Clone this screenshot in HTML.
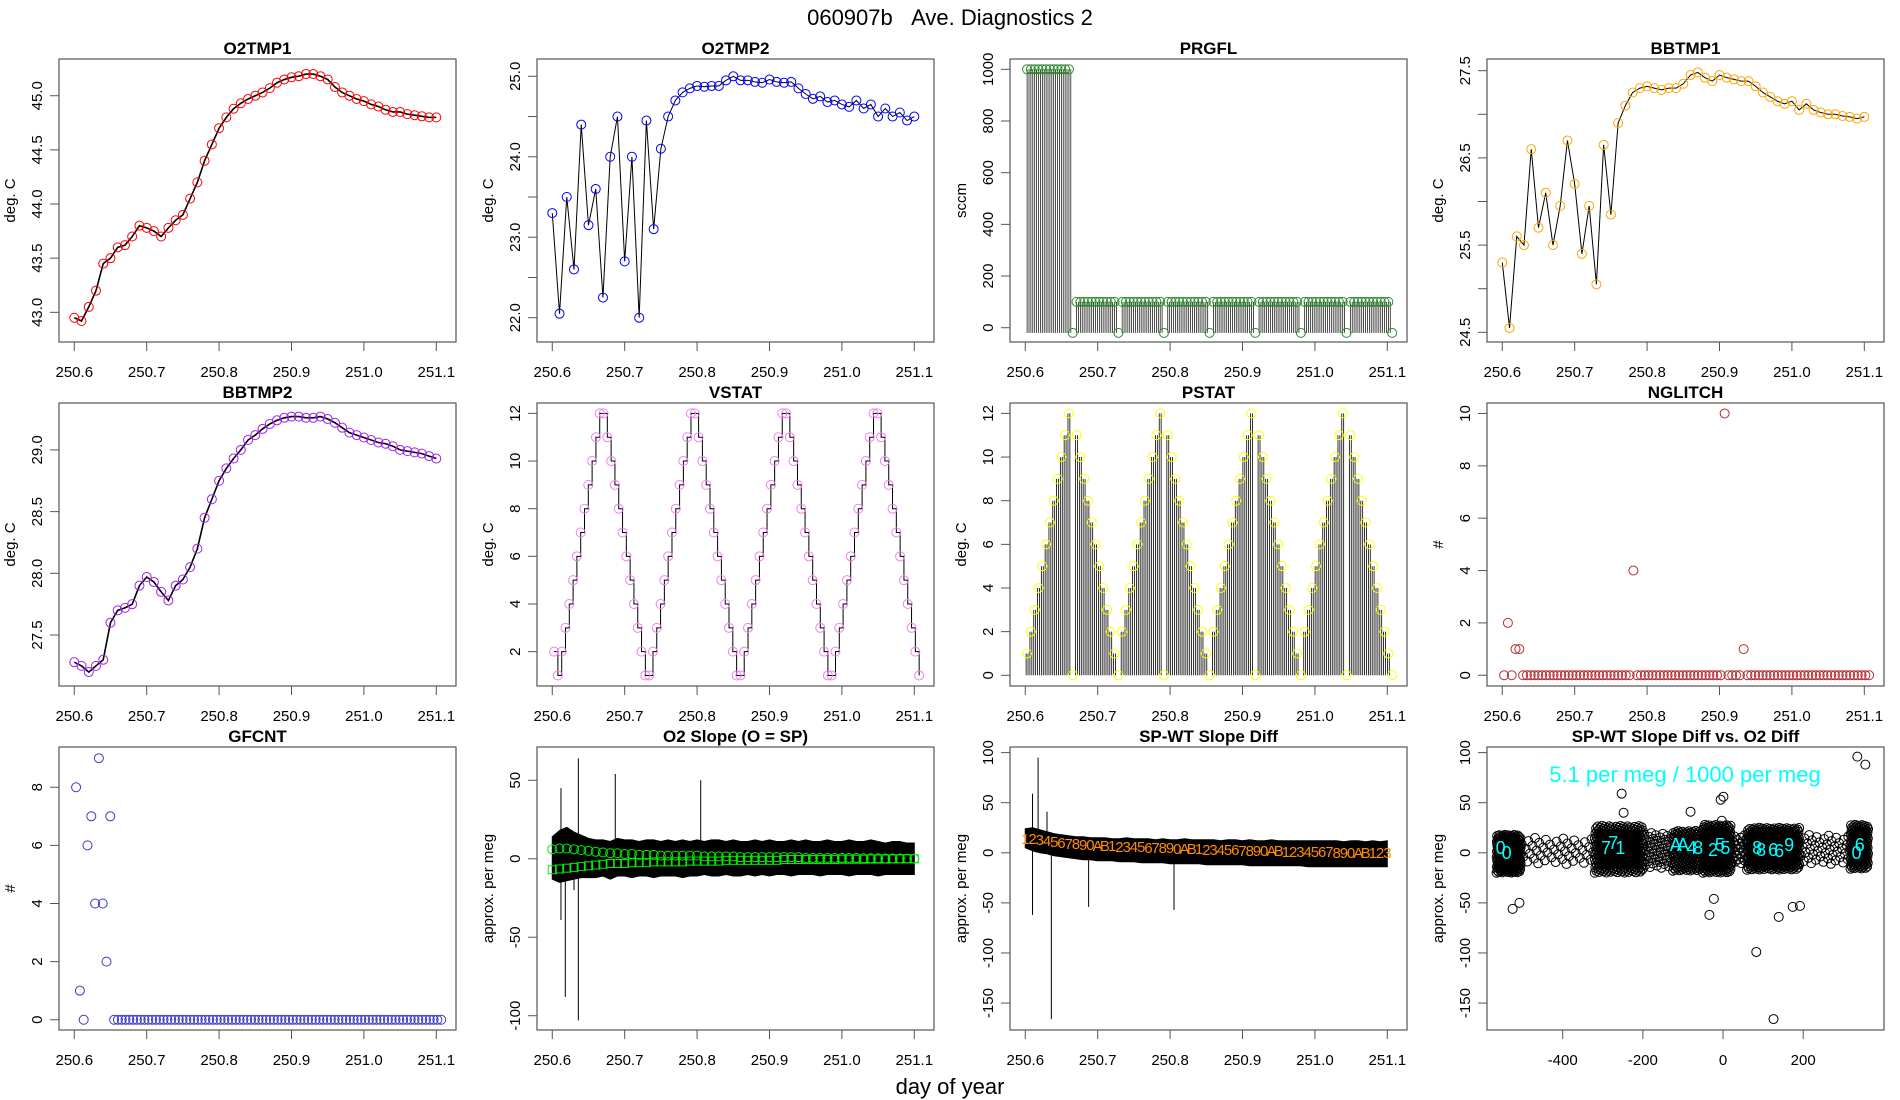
<!DOCTYPE html>
<html><head><meta charset="utf-8"><style>
html,body{margin:0;padding:0;background:#fff;}
svg{display:block;font-family:"Liberation Sans",sans-serif;}
</style></head><body>
<svg id="chart" width="1900" height="1100" viewBox="0 0 1900 1100">
<rect x="0" y="0" width="1900" height="1100" fill="#fff"/>
<text x="950" y="25" font-size="22" text-anchor="middle">060907b&#160;&#160;&#160;Ave. Diagnostics 2</text>
<text x="950" y="1094" font-size="22" text-anchor="middle">day of year</text>
</svg>
<script>
// ---- shared data ----
const T51=[250.60,250.61,250.62,250.63,250.64,250.65,250.66,250.67,250.68,250.69,250.70,250.71,250.72,250.73,250.74,250.75,250.76,250.77,250.78,250.79,250.80,250.81,250.82,250.83,250.84,250.85,250.86,250.87,250.88,250.89,250.90,250.91,250.92,250.93,250.94,250.95,250.96,250.97,250.98,250.99,251.00,251.01,251.02,251.03,251.04,251.05,251.06,251.07,251.08,251.09,251.10];
const stepStart=250.6025;
const stepDays=0.005252;
const timeTicks=[250.6,250.7,250.8,250.9,251.0,251.1];
const timeTickLabels=["250.6","250.7","250.8","250.9","251.0","251.1"];
const o2tmp1=[42.95,42.92,43.05,43.2,43.45,43.5,43.6,43.62,43.7,43.8,43.78,43.75,43.7,43.78,43.85,43.9,44.05,44.2,44.4,44.55,44.7,44.8,44.88,44.93,44.97,45.0,45.03,45.07,45.12,45.15,45.17,45.18,45.2,45.2,45.18,45.15,45.08,45.03,45.0,44.97,44.95,44.92,44.9,44.87,44.85,44.85,44.83,44.82,44.81,44.8,44.8];
const o2tmp2=[23.3,22.05,23.5,22.6,24.4,23.15,23.6,22.25,24.0,24.5,22.7,24.0,22.0,24.45,23.1,24.1,24.5,24.7,24.8,24.85,24.88,24.87,24.88,24.88,24.95,25.0,24.95,24.95,24.93,24.92,24.96,24.93,24.92,24.93,24.85,24.78,24.72,24.75,24.68,24.7,24.65,24.62,24.7,24.6,24.65,24.5,24.6,24.5,24.55,24.45,24.5];
const bbtmp1=[25.3,24.55,25.6,25.5,26.6,25.7,26.1,25.5,25.95,26.7,26.2,25.4,25.95,25.05,26.65,25.85,26.9,27.1,27.25,27.3,27.32,27.3,27.28,27.3,27.3,27.35,27.45,27.48,27.42,27.38,27.45,27.42,27.4,27.38,27.38,27.32,27.25,27.2,27.15,27.12,27.15,27.05,27.12,27.05,27.02,27.0,27.0,26.98,26.97,26.95,26.97];
const bbtmp2=[27.28,27.25,27.2,27.25,27.3,27.6,27.7,27.72,27.75,27.9,27.97,27.93,27.85,27.78,27.9,27.95,28.05,28.2,28.45,28.6,28.75,28.85,28.93,29.0,29.08,29.12,29.17,29.21,29.24,29.26,29.27,29.27,29.26,29.26,29.27,29.25,29.22,29.18,29.14,29.12,29.1,29.08,29.06,29.05,29.03,29.0,28.99,28.98,28.97,28.95,28.93];
const prgfl=[1000,1000,1000,1000,1000,1000,1000,1000,1000,1000,1000,1000,-20,100,100,100,100,100,100,100,100,100,100,100,-20,100,100,100,100,100,100,100,100,100,100,100,-20,100,100,100,100,100,100,100,100,100,100,100,-20,100,100,100,100,100,100,100,100,100,100,100,-20,100,100,100,100,100,100,100,100,100,100,100,-20,100,100,100,100,100,100,100,100,100,100,100,-20,100,100,100,100,100,100,100,100,100,100,100,-20];
const vstat=[2,1,2,3,4,5,6,7,8,9,10,11,12,12,11,10,9,8,7,6,5,4,3,2,1,1,2,3,4,5,6,7,8,9,10,11,12,12,11,10,9,8,7,6,5,4,3,2,1,1,2,3,4,5,6,7,8,9,10,11,12,12,11,10,9,8,7,6,5,4,3,2,1,1,2,3,4,5,6,7,8,9,10,11,12,12,11,10,9,8,7,6,5,4,3,2,1];
const pstat=[1,2,3,4,5,6,7,8,9,10,11,12,0,11,10,9,8,7,6,5,4,3,2,1,0,2,3,4,5,6,7,8,9,10,11,12,0,11,10,9,8,7,6,5,4,3,2,1,0,2,3,4,5,6,7,8,9,10,11,12,0,11,10,9,8,7,6,5,4,3,2,1,0,2,3,4,5,6,7,8,9,10,11,12,0,11,10,9,8,7,6,5,4,3,2,1,0];
const nglitch=[0,2,0,1,1,0,0,0,0,0,0,0,0,0,0,0,0,0,0,0,0,0,0,0,0,0,0,0,0,0,0,0,0,0,4,0,0,0,0,0,0,0,0,0,0,0,0,0,0,0,0,0,0,0,0,0,0,0,10,0,0,0,0,1,0,0,0,0,0,0,0,0,0,0,0,0,0,0,0,0,0,0,0,0,0,0,0,0,0,0,0,0,0,0,0,0,0];
const gfcnt=[8,1,0,6,7,4,9,4,2,7,0,0,0,0,0,0,0,0,0,0,0,0,0,0,0,0,0,0,0,0,0,0,0,0,0,0,0,0,0,0,0,0,0,0,0,0,0,0,0,0,0,0,0,0,0,0,0,0,0,0,0,0,0,0,0,0,0,0,0,0,0,0,0,0,0,0,0,0,0,0,0,0,0,0,0,0,0,0,0,0,0,0,0,0,0,0,0];
const o2Upper=[14,18,20,17,15,13,12,12,11,13,12,12,11,12,12,11,12,11,12,11,12,11,12,12,11,12,11,11,12,11,12,11,11,12,11,12,11,11,12,11,11,12,11,11,12,11,10,11,11,10,10];
const o2Lower=[-13,-15,-14,-13,-12,-12,-12,-11,-13,-11,-11,-12,-11,-11,-12,-11,-11,-11,-12,-11,-11,-10,-11,-11,-10,-11,-11,-10,-11,-10,-11,-10,-10,-11,-10,-10,-10,-11,-10,-10,-10,-11,-10,-10,-10,-11,-10,-10,-10,-10,-10];
const o2Circles=[6,6.5,6.5,6,5.5,5,4.5,4,3.5,3.5,3,3,2.5,2.5,2.5,2,2,2,2,2,2,1.5,1.5,1.5,1.5,1.5,1,1,1,1,1,1,1,1,1,0.5,0.5,0.5,0.5,0.5,0.5,0.5,0.5,0.3,0.3,0.3,0.2,0.2,0.2,0.1,0];
const o2Squares=[-7,-6.5,-6,-5.5,-5,-4.5,-4,-3.5,-3,-3,-3,-2.5,-2.5,-2.5,-2,-2,-2,-2,-2,-1.5,-1.5,-1.5,-1.5,-1.5,-1,-1,-1,-1,-1,-1,-1,-1,-0.5,-0.5,-0.5,-0.5,-0.5,-0.5,-0.5,-0.5,-0.3,-0.3,-0.3,-0.3,-0.2,-0.2,-0.2,-0.1,-0.1,0,0];
const o2SpikeT=[250.612,250.612,250.618,250.63,250.636,250.636,250.687,250.805];
const o2SpikeV=[45,-39,-88,-20,64,-103,54,50];
const spUpper=[24,25,23,21,19,18,17,16,16,15,15,15,14,14,15,14,14,14,13,14,13,13,14,13,13,13,13,12,13,13,12,13,12,12,13,12,12,12,12,12,12,12,12,12,11,12,12,11,12,11,12];
const spLower=[5,2,0,-1,-3,-4,-5,-6,-7,-7,-8,-8,-8,-9,-9,-9,-10,-10,-10,-10,-11,-11,-11,-11,-11,-12,-12,-12,-12,-12,-12,-13,-13,-13,-13,-13,-13,-13,-13,-14,-14,-14,-14,-14,-14,-14,-14,-14,-14,-14,-14];
const spMean=[14,14,13,12,11,10,9,9,8,8,7,7,7,6,6,6,6,5,5,5,5,4,4,4,4,3,3,3,3,3,2,2,2,2,2,2,1,1,1,1,1,1,1,0,0,0,0,0,0,0,0];
const spChars=["1","2","3","4","5","6","7","8","9","0","A","B","1","2","3","4","5","6","7","8","9","0","A","B","1","2","3","4","5","6","7","8","9","0","A","B","1","2","3","4","5","6","7","8","9","0","A","B","1","2","3"];
const spSpikeT=[250.610,250.610,250.6177,250.630,250.636,250.6875,250.8054];
const spSpikeV=[59,-62,95,41,-166,-54,-57];
const clusterXMin=[-565,-505,-320,-200,-125,-50,20,60,190,318];
const clusterXMax=[-505,-320,-200,-125,-55,20,60,190,318,362];
const clusterYLo=[-20,-12,-20,-16,-18,-20,-12,-17,-12,-16];
const clusterYHi=[18,15,27,20,22,28,18,25,18,28];
const clusterCount=[220,45,320,50,190,260,25,380,45,160];
const outlierX=[-525,-508,-253,-248,-81,-34,-23,-6,1,-3,83,126,139,174,192,335,355];
const outlierY=[-56,-50,59,40,41,-62,-46,53,56,32,-99,-166,-64,-54,-53,96,88];
const cyanX=[-555,-540,-292,-274,-256,-118,-100,-78,-62,-25,-8,6,85,95,125,140,165,333,341];
const cyanY=[5,0,5,10,5,8,8,5,5,3,8,5,5,3,3,2,8,0,8];
const cyanChars=["0","0","7","7","1","A","A","4","8","2","5","5","8","8","6","6","9","0","6"];

const NS='http://www.w3.org/2000/svg';
const svg=document.getElementById('chart');
const COLS=[59,537,1010,1487], ROWS=[59,403,747], PW=397, PH=283;
const TIMEDOM=[250.5789,251.1272];
function mk(tag,attrs,parent){const e=document.createElementNS(NS,tag);for(const k in attrs)e.setAttribute(k,attrs[k]);parent.appendChild(e);return e;}

function panel(id,col,row,xd,yd,xt,xtl,yt,ytl,title,ylab){
  const L=COLS[col],T=ROWS[row];
  const g=mk('g',{},svg);
  
  
  const sx=v=>L+(v-xd[0])/(xd[1]-xd[0])*PW;
  const sy=v=>T+PH-(v-yd[0])/(yd[1]-yd[0])*PH;
  const cp=mk('clipPath',{id:'clip-'+id},g);
  mk('rect',{x:L,y:T,width:PW,height:PH},cp);
  const plot=mk('g',{'clip-path':'url(#clip-'+id+')'},g);
  
  
  const frame=mk('rect',{x:L,y:T,width:PW,height:PH,fill:'none',stroke:'#555','stroke-width':1.2},g);
  
  
  const xa=mk('g',{},g);
  
  
  mk('line',{x1:sx(xt[0]),x2:sx(xt[xt.length-1]),y1:T+PH,y2:T+PH,stroke:'#555'},xa);
  xt.forEach((v,i)=>{
    mk('line',{x1:sx(v),x2:sx(v),y1:T+PH,y2:T+PH+9,stroke:'#555'},xa);
    const tx=mk('text',{x:sx(v),y:T+PH+35,'font-size':15,'text-anchor':'middle'},xa);
    tx.textContent=xtl[i];
    
    
  });
  const ya=mk('g',{},g);
  
  
  mk('line',{x1:L,x2:L,y1:sy(yt[0]),y2:sy(yt[yt.length-1]),stroke:'#555'},ya);
  yt.forEach((v,i)=>{
    mk('line',{x1:L-9,x2:L,y1:sy(v),y2:sy(v),stroke:'#555'},ya);
    if(ytl[i]!==''){
      const tx=mk('text',{x:L-17,y:sy(v),'font-size':15,'text-anchor':'middle',transform:'rotate(-90 '+(L-17)+' '+sy(v)+')'},ya);
      tx.textContent=ytl[i];
      
      
    }
  });
  const tt=mk('text',{x:L+PW/2,y:T-5,'font-size':17,'font-weight':'bold','text-anchor':'middle'},g);
  tt.textContent=title;
  
  
  const yl=mk('text',{x:L-44,y:T+PH/2,'font-size':15,'text-anchor':'middle',transform:'rotate(-90 '+(L-44)+' '+(T+PH/2)+')'},g);
  yl.textContent=ylab;
  
  
  return {plot,sx,sy};
}
function lineSeries(p,xs,ys,name,w){
  const pl=mk('polyline',{points:ys.map((v,i)=>p.sx(xs[i])+','+p.sy(v)).join(' '),fill:'none',stroke:'#000','stroke-width':w||1},p.plot);
  
  
}
function circles(p,xs,ys,color,name){
  ys.forEach((v,i)=>{
    const c=mk('circle',{cx:p.sx(xs[i]),cy:p.sy(v),r:4.5,fill:'none',stroke:color,'stroke-width':1},p.plot);
    
    
  });
}
const stepT=vals=>vals.map((v,i)=>stepStart+i*stepDays);
const tl=(a)=>a.map(v=>String(v));

// P1
let p=panel('o2tmp1',0,0,TIMEDOM,[42.726,45.339],timeTicks,timeTickLabels,[43,43.5,44,44.5,45],["43.0","43.5","44.0","44.5","45.0"],'O2TMP1','deg. C');
lineSeries(p,T51,o2tmp1,'o2tmp1-line',1.6);circles(p,T51,o2tmp1,'#ff0000','o2tmp1-point');
// P2
p=panel('o2tmp2',1,0,TIMEDOM,[21.698,25.215],timeTicks,timeTickLabels,[22,22.5,23,23.5,24,24.5,25],["22.0","","23.0","","24.0","","25.0"],'O2TMP2','deg. C');
lineSeries(p,T51,o2tmp2,'o2tmp2-line',1);circles(p,T51,o2tmp2,'#0000ff','o2tmp2-point');
// P3 PRGFL
p=panel('prgfl',2,0,TIMEDOM,[-55.3,1039.9],timeTicks,timeTickLabels,[0,200,400,600,800,1000],tl([0,200,400,600,800,1000]),'PRGFL','sccm');
(function(){const ts=stepT(prgfl);prgfl.forEach((v,i)=>{for(let k=0;k<2;k++){const x=p.sx(ts[i]+k*stepDays/2);
 const ln=mk('line',{x1:x,x2:x,y1:p.sy(-20),y2:p.sy(v),stroke:'#000','stroke-width':0.7},p.plot);
 
 }});
 circles(p,ts,prgfl,'#2e8b2e','prgfl-point');})();
// P4
p=panel('bbtmp1',3,0,TIMEDOM,[24.389,27.634],timeTicks,timeTickLabels,[24.5,25,25.5,26,26.5,27,27.5],["24.5","","25.5","","26.5","","27.5"],'BBTMP1','deg. C');
lineSeries(p,T51,bbtmp1,'bbtmp1-line',1);circles(p,T51,bbtmp1,'#ffa500','bbtmp1-point');
// P5
p=panel('bbtmp2',0,1,TIMEDOM,[27.087,29.38],timeTicks,timeTickLabels,[27.5,28,28.5,29],["27.5","28.0","28.5","29.0"],'BBTMP2','deg. C');
lineSeries(p,T51,bbtmp2,'bbtmp2-line',1.6);circles(p,T51,bbtmp2,'#a020f0','bbtmp2-point');
// P6 VSTAT
p=panel('vstat',1,1,TIMEDOM,[0.558,12.436],timeTicks,timeTickLabels,[2,4,6,8,10,12],tl([2,4,6,8,10,12]),'VSTAT','deg. C');
(function(){const ts=stepT(vstat);let pts=[];vstat.forEach((v,i)=>{if(i>0)pts.push(p.sx(ts[i])+','+p.sy(vstat[i-1]));pts.push(p.sx(ts[i])+','+p.sy(v));});
 const pl=mk('polyline',{points:pts.join(' '),fill:'none',stroke:'#000','stroke-width':1},p.plot);
 
 
 circles(p,ts,vstat,'#ee82ee','vstat-point');})();
// P7 PSTAT
p=panel('pstat',2,1,TIMEDOM,[-0.49,12.476],timeTicks,timeTickLabels,[0,2,4,6,8,10,12],tl([0,2,4,6,8,10,12]),'PSTAT','deg. C');
(function(){const ts=stepT(pstat);pstat.forEach((v,i)=>{for(let k=0;k<2;k++){const x=p.sx(ts[i]+(k-0.5)*stepDays/2);
 const ln=mk('line',{x1:x,x2:x,y1:p.sy(0),y2:p.sy(v),stroke:'#000','stroke-width':0.8},p.plot);
 
 }});
 circles(p,ts,pstat,'#ffff00','pstat-point');})();
// P8 NGLITCH
p=panel('nglitch',3,1,TIMEDOM,[-0.41,10.4],timeTicks,timeTickLabels,[0,2,4,6,8,10],tl([0,2,4,6,8,10]),'NGLITCH','#');
circles(p,stepT(nglitch),nglitch,'#b03030','nglitch-point');
// P9 GFCNT
p=panel('gfcnt',0,2,TIMEDOM,[-0.353,9.385],timeTicks,timeTickLabels,[0,2,4,6,8],tl([0,2,4,6,8]),'GFCNT','#');
circles(p,stepT(gfcnt),gfcnt,'#3a3ac0','gfcnt-point');
// P10 O2 slope
p=panel('o2slope',1,2,TIMEDOM,[-109.1,71.2],timeTicks,timeTickLabels,[-100,-50,0,50],tl([-100,-50,0,50]),'O2 Slope (O = SP)','approx. per meg');
(function(){const pts=T51.map((t,i)=>p.sx(t)+','+p.sy(o2Upper[i])).concat(T51.map((t,i)=>p.sx(t)+','+p.sy(o2Lower[i])).reverse());
 const band=mk('polygon',{points:pts.join(' '),fill:'#000',stroke:'#000','stroke-width':1},p.plot);
 
 
 o2SpikeT.forEach((t,i)=>{const ln=mk('line',{x1:p.sx(t),x2:p.sx(t),y1:p.sy(0),y2:p.sy(o2SpikeV[i]),stroke:'#000','stroke-width':1},p.plot);
 
 });
 circles(p,T51,o2Circles,'#00ee00','o2slope-circle');
 o2Squares.forEach((v,i)=>{const r=mk('rect',{x:p.sx(T51[i])-4,y:p.sy(v)-4,width:8,height:8,fill:'none',stroke:'#00ee00'},p.plot);
 
 });})();
// P11 SP-WT
p=panel('spwt',2,2,TIMEDOM,[-176.9,105.6],timeTicks,timeTickLabels,[-150,-100,-50,0,50,100],tl([-150,-100,-50,0,50,100]),'SP-WT Slope Diff','approx. per meg');
(function(){const pts=T51.map((t,i)=>p.sx(t)+','+p.sy(spUpper[i])).concat(T51.map((t,i)=>p.sx(t)+','+p.sy(spLower[i])).reverse());
 const band=mk('polygon',{points:pts.join(' '),fill:'#000',stroke:'#000'},p.plot);
 
 
 spSpikeT.forEach((t,i)=>{const ln=mk('line',{x1:p.sx(t),x2:p.sx(t),y1:p.sy(5),y2:p.sy(spSpikeV[i]),stroke:'#000','stroke-width':1},p.plot);
 
 });
 spMean.forEach((v,i)=>{const tx=mk('text',{x:p.sx(T51[i]),y:p.sy(v)+5,'font-size':15,'text-anchor':'middle',fill:'#ff8c00'},p.plot);
 tx.textContent=spChars[i];
 
 });})();
// P12 scatter
p=panel('spwt-vs-o2',3,2,[-588.9,401.6],[-176.9,105.6],[-400,-200,0,200],["-400","-200","0","200"],[-150,-100,-50,0,50,100],tl([-150,-100,-50,0,50,100]),'SP-WT Slope Diff vs. O2 Diff','approx. per meg');
(function(){clusterCount.forEach((n,c)=>{for(let i=0;i<n;i++){const fx=(i*0.6180339)%1;const fy=(i+0.5)/n;
 const x=clusterXMin[c]+(clusterXMax[c]-clusterXMin[c])*fx;const y=clusterYLo[c]+(clusterYHi[c]-clusterYLo[c])*fy;
 const ci=mk('circle',{cx:p.sx(x),cy:p.sy(y),r:4.5,fill:'none',stroke:'#000','stroke-width':1},p.plot);
 
 }});
 circles(p,outlierX,outlierY,'#000','scatter-outlier');
 cyanX.forEach((x,i)=>{const tx=mk('text',{x:p.sx(x),y:p.sy(cyanY[i])+6,'font-size':18,'text-anchor':'middle',fill:'#00ffff'},p.plot);
 tx.textContent=cyanChars[i];
 
 });
 const ann=mk('text',{x:p.sx(-95),y:p.sy(78.5)+8,'font-size':22,'text-anchor':'middle',fill:'#00ffff'},p.plot);
 ann.textContent='5.1 per meg / 1000 per meg';
 
 })();
</script>
</body></html>
